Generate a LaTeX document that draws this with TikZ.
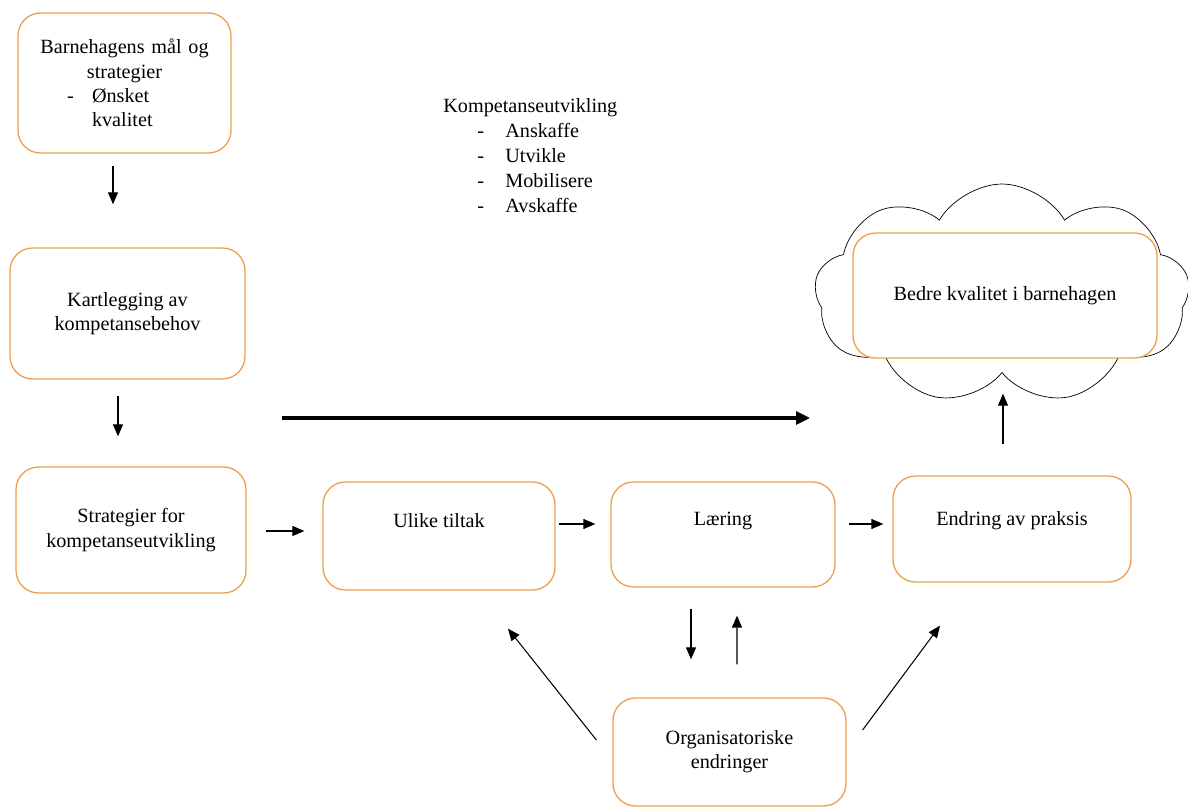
\documentclass[tikz,border=0pt]{standalone}
\usepackage{fontspec}
\setmainfont{Liberation Serif}
\usepackage{tikz}
\usetikzlibrary{arrows.meta}
\usetikzlibrary{shapes.symbols}
\usetikzlibrary{positioning}

\definecolor{boxorange}{RGB}{238,160,80}

\tikzset{
    box/.style={draw=boxorange, line width=0.75pt, rounded corners=0.45cm, fill=white,
        align=center, inner sep=0pt, font=\fontsize{11.5}{13.8}\selectfont},
    arr/.style={-{Triangle[length=2.4mm,width=2mm]}, line width=0.6pt},
}

\begin{document}
\begin{tikzpicture}[x=0.02cm, y=-0.02cm]
    \useasboundingbox (0,0) rectangle (1188,807);
    % Cloud behind the goal
    \node [cloud, draw, cloud puffs=9, cloud puff arc=120, aspect=1.8,
           minimum width=7.5cm, minimum height=4.4cm, inner sep=0pt, fill=white] (sky) at (1002,294) {};
    % Boxes
    \node [box, minimum width=4.26cm, minimum height=2.8cm, text width=4.26cm] (barn) at (124.5,83)
        {Barnehagens mål og\\ strategier\\
         \makebox[\linewidth][l]{\hspace{0.98cm}\makebox[0.5cm][l]{-}Ønsket}\\
         \makebox[\linewidth][l]{\hspace{1.48cm}kvalitet}};
    \node [box, minimum width=4.7cm, minimum height=2.62cm] (kart) at (127.5,313.5)
        {Kartlegging av\\ kompetansebehov};
    \node [box, minimum width=4.6cm, minimum height=2.52cm] (strat) at (131,530)
        {Strategier for\\ kompetanseutvikling};
    \node [box, minimum width=4.64cm, minimum height=2.16cm, text depth=18pt] (ulike) at (439,536)
        {Ulike tiltak};
    \node [box, minimum width=4.48cm, minimum height=2.1cm, text depth=18pt] (laering) at (723,534.5)
        {Læring};
    \node [box, minimum width=4.76cm, minimum height=2.12cm, text depth=12.5pt] (endring) at (1012,529)
        {Endring av praksis};
    \node [box, minimum width=4.66cm, minimum height=2.16cm] (org) at (729.5,752)
        {Organisatoriske\\ endringer};
    \node [box, minimum width=6.08cm, minimum height=2.5cm] (bedre) at (1005,295.5)
        {Bedre kvalitet i barnehagen};
    % List of activities
    \node [anchor=north west, inner sep=0pt, align=left, font=\fontsize{11.5}{14.2}\selectfont] (komp) at (443,98)
        {Kompetanseutvikling\\
         \hspace*{0.68cm}\makebox[0.56cm][l]{-}Anskaffe\\
         \hspace*{0.68cm}\makebox[0.56cm][l]{-}Utvikle\\
         \hspace*{0.68cm}\makebox[0.56cm][l]{-}Mobilisere\\
         \hspace*{0.68cm}\makebox[0.56cm][l]{-}Avskaffe};
    % Arrows
    \draw [arr] ([shift={(-11.5,12)}]barn.south) -- ([shift={(-14.5,-43)}]kart.north);
    \draw [arr] ([shift={(-9.5,16)}]kart.south) -- ([shift={(-13,-30)}]strat.north);
    \draw [arr] ([shift={(19,1)}]strat.east) -- ([shift={(-18,-5)}]ulike.west);
    \draw [arr] ([shift={(3,-12)}]ulike.east) -- ([shift={(-15,-10.5)}]laering.west);
    \draw [arr] ([shift={(13,-10.5)}]laering.east) -- ([shift={(-9,-5)}]endring.west);
    \draw [arr] ([shift={(-9,-31)}]endring.north) -- ([shift={(-2,35)}]bedre.south);
    \draw [arr] ([shift={(-32,21)}]laering.south) -- ([shift={(-38.5,-38)}]org.north);
    \draw [arr] ([shift={(7.5,-33)}]org.north) -- ([shift={(14,28)}]laering.south);
    \draw [arr] ([shift={(-16,-12)}]org.west) -- ([shift={(69,38)}]ulike.south);
    \draw [arr] ([shift={(16,-22)}]org.east) -- ([shift={(-72,43)}]endring.south);
    % Long arrow
    \coordinate (longstart) at (282,418);
    \coordinate (longend) at (810,418);
    \draw [-{Triangle[length=2.8mm,width=2.6mm]}, line width=1.8pt] (longstart) -- (longend);
\end{tikzpicture}
\end{document}
